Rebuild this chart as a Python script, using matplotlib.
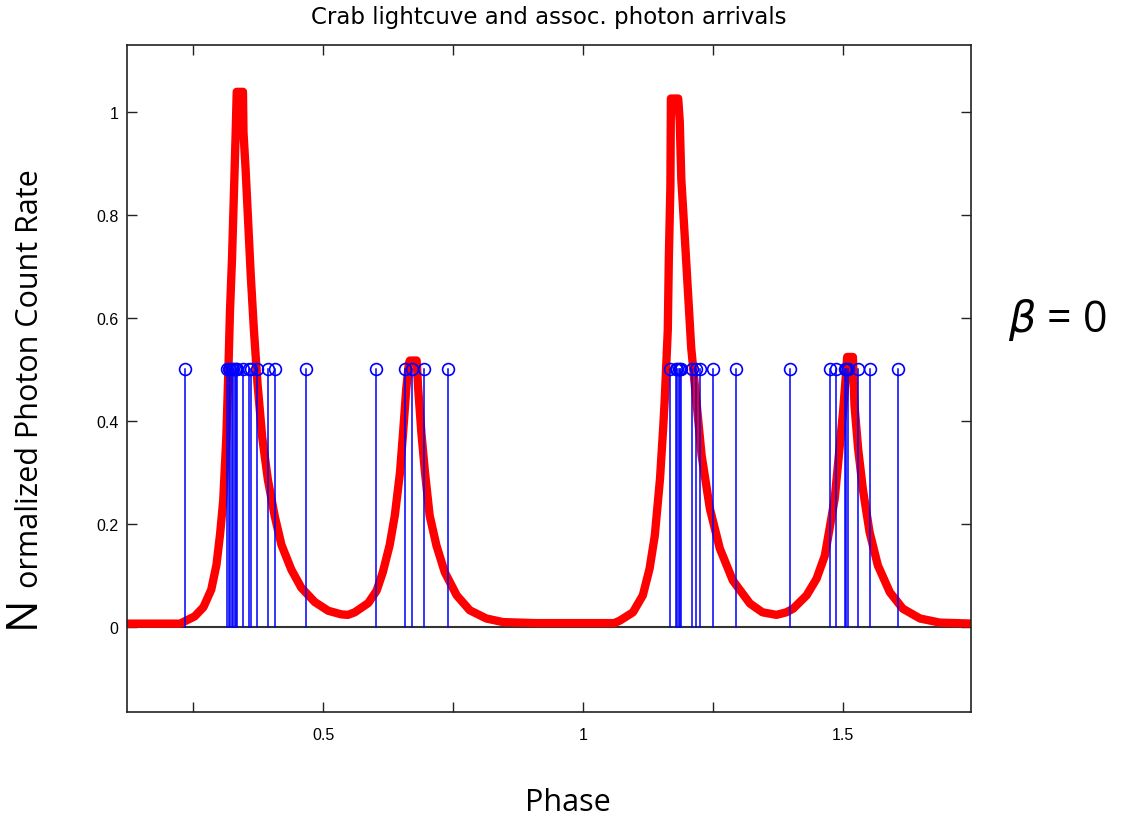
import matplotlib
matplotlib.use('Agg')
import matplotlib.pyplot as plt

# Crab light curve, phase vs normalized rate
phase_curve = [0.12, 0.225, 0.237, 0.253, 0.270, 0.285, 0.295, 0.302, 0.308, 0.314,
               0.318, 0.321, 0.325, 0.329, 0.332, 0.334, 0.346, 0.347, 0.351, 0.356,
               0.361, 0.367, 0.374, 0.383, 0.394, 0.407, 0.420, 0.439, 0.458, 0.484,
               0.510, 0.535, 0.548, 0.561, 0.587, 0.603, 0.615, 0.628, 0.638, 0.648,
               0.654, 0.660, 0.665, 0.667, 0.680, 0.683, 0.689, 0.696, 0.705, 0.718,
               0.734, 0.757, 0.782, 0.814, 0.846, 0.910, 1.060, 1.071, 1.096, 1.115,
               1.128, 1.138, 1.148, 1.154, 1.157, 1.163, 1.165, 1.168, 1.169, 1.183,
               1.186, 1.189, 1.196, 1.202, 1.208, 1.218, 1.228, 1.244, 1.263, 1.288,
               1.321, 1.345, 1.372, 1.391, 1.404, 1.430, 1.449, 1.465, 1.474, 1.484,
               1.492, 1.500, 1.505, 1.508, 1.519, 1.522, 1.529, 1.538, 1.551, 1.567,
               1.590, 1.615, 1.648, 1.686, 1.750]
rate_curve = [0.006, 0.006, 0.012, 0.020, 0.038, 0.072, 0.120, 0.180, 0.245, 0.368,
              0.500, 0.612, 0.717, 0.855, 0.960, 1.039, 1.039, 0.960, 0.890, 0.786,
              0.682, 0.577, 0.472, 0.368, 0.285, 0.215, 0.159, 0.111, 0.076, 0.048,
              0.031, 0.024, 0.023, 0.028, 0.046, 0.070, 0.106, 0.158, 0.216, 0.300,
              0.378, 0.462, 0.511, 0.517, 0.517, 0.462, 0.378, 0.300, 0.216, 0.158,
              0.106, 0.061, 0.032, 0.016, 0.009, 0.007, 0.007, 0.012, 0.028, 0.061,
              0.113, 0.177, 0.287, 0.384, 0.438, 0.577, 0.716, 0.855, 1.026, 1.026,
              0.981, 0.869, 0.751, 0.647, 0.542, 0.438, 0.333, 0.229, 0.152, 0.090,
              0.045, 0.028, 0.023, 0.028, 0.035, 0.061, 0.093, 0.138, 0.190, 0.249,
              0.333, 0.417, 0.482, 0.524, 0.524, 0.430, 0.346, 0.268, 0.184, 0.119,
              0.067, 0.035, 0.016, 0.008, 0.006]

# photon arrival phases (stems of height 0.5)
photon_phase = [0.2354, 0.3154, 0.3185, 0.3215, 0.3245, 0.3275, 0.3305, 0.3335, 0.3346,
                0.3462, 0.3577, 0.3623, 0.3738, 0.3942, 0.4071, 0.4681, 0.6027, 0.6571,
                0.6719, 0.6937, 0.7404,
                1.1681, 1.1783, 1.1810, 1.1840, 1.1865, 1.1892, 1.2104, 1.2181, 1.2244,
                1.2500, 1.2950, 1.3975, 1.4744, 1.4860, 1.5033, 1.5060, 1.5096, 1.5288,
                1.5527, 1.6065]
photon_height = 0.5

xticks = [0.25, 0.5, 0.75, 1.0, 1.25, 1.5]
xticklabels = ['', '0.5', '', '1', '', '1.5']
yticks = [0, 0.2, 0.4, 0.6, 0.8, 1.0]
yticklabels = ['0', '0.2', '0.4', '0.6', '0.8', '1']

fig = plt.figure(figsize=(11.26, 8.2), dpi=100)
ax = fig.add_axes([0.1128, 0.1309, 0.7495, 0.813])

ax.axhline(0, color='#333333', lw=1.5, zorder=1)
ax.plot(phase_curve, rate_curve, color='red', lw=6, zorder=2)

for p in photon_phase:
    ax.plot([p, p], [0, photon_height], color='blue', lw=1.1, zorder=3)
ax.plot(photon_phase, [photon_height] * len(photon_phase), 'o', mfc='none', mec='blue',
        ms=8.5, mew=1.2, zorder=4)

ax.set_xlim(0.123, 1.746)
ax.set_ylim(-0.165, 1.13)
ax.set_xticks(xticks)
ax.set_xticklabels(xticklabels, family='Liberation Sans', fontsize=11.5)
ax.set_yticks(yticks)
ax.set_yticklabels(yticklabels, family='Liberation Sans', fontsize=11.5)
ax.tick_params(direction='in', length=7, width=1, top=True, right=True, color='#222222')
ax.tick_params(axis='x', pad=11)
ax.tick_params(axis='y', pad=6)
for s in ax.spines.values():
    s.set_color('#222222')
    s.set_linewidth(1.2)

fig.text(0.4875, 0.979, 'Crab lightcuve and assoc. photon arrivals', ha='center', va='center',
         family='DejaVu Sans', fontsize=16.5)
fig.text(0.5045, 0.021, 'Phase', ha='center', va='center', family='Open Sans', fontsize=22)
fig.text(0.040, 0.234, 'N', ha='right', va='bottom', rotation=90, family='Open Sans', fontsize=31)
fig.text(0.040, 0.283, 'ormalized Photon Count Rate', ha='right', va='bottom', rotation=90,
         family='Open Sans', fontsize=22)
fig.text(0.9387, 0.61, r'$\beta$ = 0', ha='center', va='center', family='Open Sans', fontsize=31)

fig.savefig('out.png', dpi=100)
